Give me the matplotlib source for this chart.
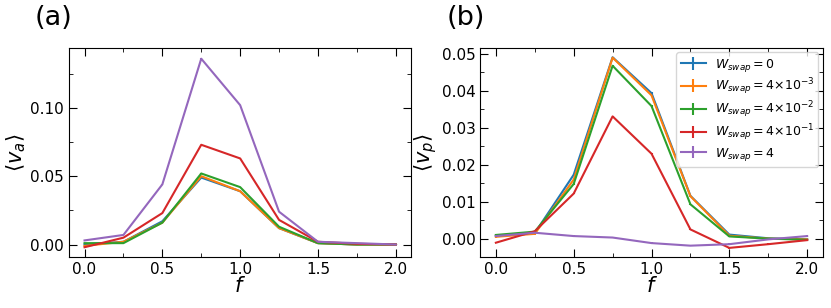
import matplotlib.pyplot as plt
import numpy as np

# force values f
f = [0.0, 0.25, 0.5, 0.75, 1.0, 1.25, 1.5, 1.75, 2.0]

labels = [r'$W_{swap}=0$',
          r'$W_{swap}=4{\times}10^{-3}$',
          r'$W_{swap}=4{\times}10^{-2}$',
          r'$W_{swap}=4{\times}10^{-1}$',
          r'$W_{swap}=4$']

# <v_a> for each W_swap
va_0 = [0.000, 0.002, 0.017, 0.049, 0.039, 0.012, 0.001, 0.000, 0.000]
va_1 = [-0.001, 0.002, 0.016, 0.050, 0.039, 0.012, 0.001, 0.000, 0.000]
va_2 = [0.001, 0.001, 0.016, 0.052, 0.042, 0.013, 0.001, 0.000, 0.000]
va_3 = [-0.002, 0.005, 0.023, 0.073, 0.063, 0.018, 0.002, 0.0005, 0.000]
va_4 = [0.003, 0.007, 0.044, 0.136, 0.102, 0.024, 0.002, 0.001, 0.000]

# <v_p> for each W_swap
vp_0 = [0.0008, 0.0015, 0.0173, 0.0491, 0.0394, 0.0116, 0.0011, 0.0001, -0.0002]
vp_1 = [0.0005, 0.0013, 0.0160, 0.0490, 0.0388, 0.0115, 0.0008, 0.0000, -0.0002]
vp_2 = [0.0010, 0.0019, 0.0148, 0.0468, 0.0359, 0.0093, 0.0006, 0.0000, -0.0003]
vp_3 = [-0.0011, 0.0020, 0.0122, 0.0331, 0.0230, 0.0025, -0.0025, -0.0015, -0.0004]
vp_4 = [0.0007, 0.0016, 0.0007, 0.0003, -0.0012, -0.0019, -0.0015, -0.0002, 0.0007]

va_all = [va_0, va_1, va_2, va_3, va_4]
vp_all = [vp_0, vp_1, vp_2, vp_3, vp_4]
err = [0.0002, 0.0002, 0.0002, 0.0002, 0.0002, 0.0002, 0.0002, 0.0002, 0.0002]


def style_axis(ax):
    ax.tick_params(which='both', direction='in', top=True, right=True, labelsize=11)
    ax.tick_params(which='major', length=6)
    ax.tick_params(which='minor', length=3)
    ax.set_xticks([0.0, 0.5, 1.0, 1.5, 2.0])
    ax.set_xticks([0.25, 0.75, 1.25, 1.75], minor=True)
    ax.set_xlim(-0.1, 2.1)


fig, axes = plt.subplots(1, 2, figsize=(8.31, 3.08), dpi=100)
fig.subplots_adjust(left=0.083, right=0.990, top=0.844, bottom=0.164, wspace=0.2015)

for vals, lab in zip(va_all, labels):
    axes[0].errorbar(f, vals, yerr=err, label=lab, lw=1.5)
for vals, lab in zip(vp_all, labels):
    axes[1].errorbar(f, vals, yerr=err, label=lab, lw=1.5)

style_axis(axes[0])
axes[0].set_ylim(-0.0095, 0.1438)
axes[0].set_yticks([0.0, 0.05, 0.10])
axes[0].set_yticks([0.025, 0.075, 0.125], minor=True)
axes[0].set_yticklabels(['0.00', '0.05', '0.10'])
axes[0].set_ylabel(r'$\langle v_a \rangle$', fontsize=15, labelpad=2)
axes[0].set_xlabel(r'$f$', fontsize=15, labelpad=-1)

style_axis(axes[1])
axes[1].set_ylim(-0.0051, 0.0516)
axes[1].set_yticks([0.0, 0.01, 0.02, 0.03, 0.04, 0.05])
axes[1].set_yticks([0.005, 0.015, 0.025, 0.035, 0.045], minor=True)
axes[1].set_yticklabels(['0.00', '0.01', '0.02', '0.03', '0.04', '0.05'])
axes[1].set_ylabel(r'$\langle v_p \rangle$', fontsize=15, labelpad=2)
axes[1].set_xlabel(r'$f$', fontsize=15, labelpad=-1)
axes[1].legend(loc='upper right', fontsize=9, handlelength=2.0, handletextpad=0.7,
               borderaxespad=0.35, labelspacing=0.2, borderpad=0.35)

fig.text(0.042, 0.94, '(a)', fontsize=19.5, va='center')
fig.text(0.537, 0.94, '(b)', fontsize=19.5, va='center')

plt.savefig('out.png', dpi=100)
